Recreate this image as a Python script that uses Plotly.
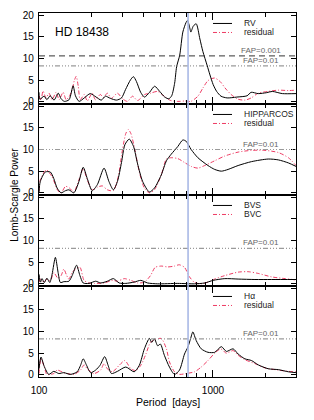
import math
import plotly.graph_objects as go
from plotly.subplots import make_subplots

# ---------------- data (period in days, Lomb-Scargle power) ----------------
rv_period = [100, 101, 107, 111, 116, 122, 129, 134, 140, 149, 157, 162, 170, 182, 197, 213, 228,
             241, 257, 279, 298, 314, 336, 349, 363, 384, 404, 432, 462, 494, 528, 557, 579, 602,
             618, 644, 671, 700, 714, 736, 746, 771, 801, 841, 875, 924, 961, 1002, 1050, 1112,
             1206, 1370, 1571, 1656, 1820, 2025, 2193, 2505, 3000]
rv_power = [2.2, 0.6, 1.3, 0.5, 1.4, 0.4, 2.0, 0.7, 0.1, 0.5, 3.7, 1.4, 0.1, 0.9, 1.9, 1.1, 0.4,
            1.3, 0.8, 0.4, 0.9, 2.8, 5.1, 5.8, 4.7, 2.2, 1.1, 2.2, 3.6, 2.4, 1.1, 0.7, 1.4, 4.3,
            8.1, 10.8, 16.1, 18.3, 18.8, 17.0, 16.1, 17.5, 18.0, 14.5, 11.6, 8.5, 6.2, 4.0, 2.4,
            1.3, 0.9, 1.1, 1.4, 2.2, 1.9, 2.1, 2.4, 1.9, 1.9]

rvres_period = [100, 102.7, 105.5, 109.8, 114.2, 118.9, 125.4, 130.5, 137.6, 143.2, 149.1, 155.1,
                159.3, 163.6, 168.1, 172.6, 182, 189.4, 202.2, 210.8, 225.2, 234.4, 247, 260.7,
                282.3, 302.1, 322.6, 344.7, 368.6, 404.9, 437.5, 481, 528.1, 571.8, 627.7, 689.8,
                745.9, 819, 875.5, 936, 1020, 1098, 1173, 1270, 1395, 1531, 1658, 1820, 2079,
                2375, 2714, 3000]
rvres_power = [1.4, 0.4, 2.5, 0.9, 2.0, 0.5, 2.2, 0.5, 2.2, 0.5, 1.2, 2.8,
               4.8, 5.9, 3.6, 0.5, 1.7, 0.2, 2.0, 0.5, 1.7, 1.0, 2.0, 0.8,
               2.0, 0.7, 0.1, 1.3, 0.3, 1.7, 2.0, 2.4, 1.2, 0.3, 0.1, 0.2,
               0.1, 1.3, 3.2, 4.9, 5.5, 4.7, 3.2, 1.7, 0.6, 0.4, 0.9, 2.0, 2.4,
               2.7, 2.6, 2.7]

hip_period = [100, 101.7, 108.7, 116.2, 121.6, 127.1, 134, 142, 148.5, 158.6, 169.6, 179.5, 189.4,
              202.2, 216.5, 236.5, 252.4, 267.6, 282.3, 298, 311.6, 330.2, 349.4, 368.6, 394.4,
              431.1, 460.8, 504, 540, 575, 628, 671, 701, 749, 819, 936, 1023, 1117, 1221, 1395,
              1665, 2079, 2375, 2714, 3000]
hip_power = [0, 2.6, 4.8, 4.8, 3.3, 1.1, 0, 0.5, 0.7, 0, 2.6, 5.9, 3.3,
             0.5, 1.9, 5.7, 2.6, 0.7, 2.6, 7.0, 11.1, 12.4, 10.7, 6.7, 2.6,
             0.2, 1.1, 4.1, 7.4, 8.9, 10.7, 12.2, 11.9, 10.0, 8.1, 6.3, 5.4, 5.0, 5.4, 6.3,
             7.2, 7.8, 7.6, 6.9, 6.1]

hipres_period = [100, 101.7, 110.2, 118.9, 128.4, 134, 142, 149.7, 158.6, 169.6, 179.5, 189.4,
                 202.2, 216.5, 231.3, 247, 267.6, 285.2, 302, 315.5, 325.9, 337.3, 355.5, 377.2,
                 403.4, 431.1, 460.8, 504, 540, 575, 628, 686, 749, 819, 896, 1023, 1169, 1395,
                 1665, 1990, 2375, 2714, 3000]
hipres_power = [0.4, 3.0, 5.3, 3.7, 0.5, 0, 1.5, 1.1, 0.2, 3.0, 5.6, 3.0,
                0.7, 1.3, 1.6, 0.7, 0.5, 3.7, 10.0, 13.7, 14.6, 13.7, 10.0, 4.8,
                1.1, 0, 0.7, 4.1, 7.8, 8.1, 7.9, 7.0, 6.1, 5.7, 6.3, 7.4, 8.5, 9.4,
                9.8, 9.8, 9.3, 8.1, 6.3]

bvs_period = [100, 102, 104.1, 107.3, 111, 115.3, 118.9, 124.2, 128.8, 132.7, 138.9, 148.5, 155.1,
              164.3, 171.9, 179.5, 193.7, 211.6, 226.1, 247, 267.6, 289, 315.5, 352.2, 384.8,
              420.9, 481, 628, 784, 896, 1002, 1169, 1395, 1742, 2172, 3000]
bvs_power = [2.2, 0.4, 1.2, 0.3, 1.3, 0.3, 2.2, 6.1, 2.6, 0.3, 0.5, 0.6, 1.9,
             4.3, 1.9, 0.2, 0.1, 0.6, 0.2, 0.6, 1.2, 0.2, 0.1, 0.4, 0.8,
             0.2, 0.0, 0.1, 0.0, 0.2, 0.8, 1.2, 1.1, 1.0, 1.0, 1.0]

bvc_period = [100, 101.7, 106.5, 111, 116.2, 121.6, 128.4, 134, 138.9, 144, 148.5, 155.1, 162,
              172, 181.5, 193.7, 208, 236.5, 265, 282.3, 309, 337.3, 368.6, 403.4, 437.3, 465,
              504, 549, 601, 640, 686, 733, 784, 856, 936, 1023, 1169, 1395, 1593, 1820, 2172,
              2597, 3000]
bvc_power = [0.4, 1.1, 0.4, 1.1, 0.7, 2.6, 1.3, 1.9, 3.4, 2.0, 1.1, 2.6, 3.4,
             3.8, 0.8, 0.2, 0.1, 0.2, 0.8, 0.6, 1.2, 0.8, 0.2, 0.4, 1.9, 3.8,
             4.1, 3.9, 4.1, 4.4, 3.8, 1.6, 0.3, 0.0, 0.4, 1.1, 1.9, 2.7, 2.8, 2.4, 1.6,
             1.2, 0.9]

ha_period = [100, 102.7, 107.3, 113.8, 121.6, 130, 138.9, 151.7, 165.8, 173.3, 179.5, 187.7, 198,
             211.6, 224.3, 238.5, 249.5, 260.7, 282.3, 315.5, 352.2, 377.2, 403.4, 431.1, 444,
             460.8, 481, 498.5, 525.6, 562, 601, 642, 686, 717, 743, 766, 801, 856, 936, 1023,
             1117, 1194, 1305, 1395, 1525, 1665, 1820, 2079, 2375, 2714, 3000]
ha_power = [1.4, 4.1, 1.9, 0.1, 0.8, 0.3, 0.5, 0.1, 0.7, 2.2, 3.7, 2.2, 0.5,
            1.1, 2.2, 4.2, 2.2, 0.3, 0.8, 1.8, 0.7, 2.2, 6.0, 8.4, 7.5,
            8.3, 6.7, 7.1, 4.5, 1.8, 0.1, 1.1, 4.8, 6.4, 8.3, 9.9, 7.9, 6.0, 5.2, 5.2,
            6.5, 5.4, 6.0, 4.8, 3.7, 3.3, 2.3, 1.4, 1.2, 0.7, 0.5]

hares_period = [100, 102.7, 107.3, 111, 121.6, 127.1, 138.9, 158.6, 173.3, 181.5, 189.4, 207,
                226.1, 236.5, 247, 264.2, 289, 311.6, 337.3, 360.3, 384.8, 411.6, 437.3, 465,
                504, 540, 562, 601, 642, 701, 784, 856, 936, 1023, 1108, 1194, 1305, 1395, 1525,
                1742, 1990, 2375, 2714, 3000]
hares_power = [0.3, 3.7, 1.8, 0.1, 0.3, 1.1, 0.5, 0.1, 1.1, 2.3, 1.4, 0.3,
               1.1, 2.6, 1.4, 0.7, 2.2, 3.3, 1.4, 1.0, 2.2, 4.8, 7.5, 8.1,
               8.4, 6.0, 3.0, 0.7, 0.1, 0.3, 0.7, 1.8, 3.3, 5.0, 6.0, 5.0, 5.6, 4.5, 3.5,
               2.6, 1.6, 1.1, 0.8, 0.7]

series_labels = [("RV", "residual"), ("HIPPARCOS", "residual"), ("BVS", "BVC"), ("H\u03b1", "residual")]
fap_01_levels = [8.3, 10.0, 8.2, 8.3]     # FAP = 0.01
fap_001_level = 10.6                      # FAP = 0.001 (RV panel only)
orbital_period = 719
star_name = "HD 18438"

x_major = [100, 1000]
x_major_text = ["100", "1000"]
x_minor = [200, 300, 400, 500, 600, 700, 800, 900, 2000, 3000]
y_ticks = [0, 5, 10, 15, 20]

# ---------------- figure ----------------
FONT = "Liberation Sans, Arial, Helvetica, sans-serif"
RED = "#ee3b63"
GRAY = "#9a9a9a"

fig = make_subplots(rows=4, cols=1, shared_xaxes=True, vertical_spacing=0)

panels = [
    (rv_period, rv_power, rvres_period, rvres_power),
    (hip_period, hip_power, hipres_period, hipres_power),
    (bvs_period, bvs_power, bvc_period, bvc_power),
    (ha_period, ha_power, hares_period, hares_power),
]

for i, (pa, va, pb, vb) in enumerate(panels, start=1):
    sfx = "" if i == 1 else str(i)
    # FAP=0.01 level
    fig.add_shape(type="line", xref=f"x{sfx} domain", x0=0, x1=1, yref=f"y{sfx}",
                  y0=fap_01_levels[i - 1], y1=fap_01_levels[i - 1],
                  line=dict(color=GRAY, width=1.2, dash="5px,2px,1px,2px,1px,2px,1px,2px"))
    fig.add_annotation(xref=f"x{sfx} domain", yref=f"y{sfx}", x=0.865, y=fap_01_levels[i - 1],
                       text="FAP=0.01", showarrow=False, xanchor="center", yanchor="bottom",
                       yshift=-1, font=dict(family=FONT, size=8, color="#666666"))
    fig.add_trace(go.Scatter(x=pb, y=vb, mode="lines", showlegend=False,
                             line=dict(color=RED, width=1, dash="4px,2px,1px,2px",
                                       shape="spline", smoothing=0.7)), row=i, col=1)
    fig.add_trace(go.Scatter(x=pa, y=va, mode="lines", showlegend=False,
                             line=dict(color="black", width=1, shape="spline", smoothing=0.7)),
                  row=i, col=1)
    # legend samples
    la, lb = series_labels[i - 1]
    for yy, lab, col, dash in [(0.885, la, "black", "solid"), (0.786, lb, RED, "4px,2px,1px,2px")]:
        fig.add_shape(type="line", xref=f"x{sfx} domain", yref=f"y{sfx} domain",
                      x0=0.677, x1=0.751, y0=yy, y1=yy, line=dict(color=col, width=1, dash=dash))
        fig.add_annotation(xref=f"x{sfx} domain", yref=f"y{sfx} domain", x=0.79, y=yy,
                           text=lab, showarrow=False, xanchor="left", yanchor="middle",
                           font=dict(family=FONT, size=8.5, color="#222222"))

# FAP=0.001 level in the RV panel
fig.add_shape(type="line", xref="x domain", x0=0, x1=1, yref="y",
              y0=fap_001_level, y1=fap_001_level,
              line=dict(color="#333333", width=1, dash="6px,4px"))
fig.add_annotation(xref="x domain", yref="y", x=0.865, y=fap_001_level, text="FAP=0.001",
                   showarrow=False, xanchor="center", yanchor="bottom", yshift=-1,
                   font=dict(family=FONT, size=8, color="#666666"))

# orbital period marker across all panels
fig.add_shape(type="line", xref="x", yref="paper", x0=orbital_period, x1=orbital_period,
              y0=0, y1=1, line=dict(color="#a9b9e6", width=1.6))

fig.add_annotation(xref="x domain", yref="y domain", x=0.055, y=0.79, text=star_name,
                   showarrow=False, xanchor="left", yanchor="middle",
                   font=dict(family=FONT, size=12, color="black"))

fig.add_annotation(xref="paper", yref="paper", x=-0.098, y=0.5, text="Lomb-Scargle Power",
                   textangle=-90, showarrow=False, xanchor="center", yanchor="middle",
                   font=dict(family=FONT, size=10, color="black"))
fig.add_annotation(xref="paper", yref="paper", x=0.5, y=-0.068, text="Period  [days]",
                   showarrow=False, xanchor="center", yanchor="middle",
                   font=dict(family=FONT, size=10.5, color="black"))

for i in range(1, 5):
    fig.update_xaxes(type="log", range=[2, math.log10(3000)], showgrid=False, zeroline=False,
                     showline=True, linecolor="black", linewidth=1.3, mirror="ticks",
                     ticks="inside", ticklen=7, tickwidth=1, tickcolor="black",
                     tickmode="array", tickvals=x_major, ticktext=x_major_text,
                     minor=dict(tickmode="array", tickvals=x_minor, ticks="inside", ticklen=4,
                                tickwidth=1, tickcolor="black", showgrid=False),
                     tickfont=dict(family=FONT, size=10, color="black"), automargin=False,
                     showticklabels=(i == 4), ticklabelstandoff=4, row=i, col=1)
    fig.update_yaxes(range=[-0.5, 20.5], showgrid=False, zeroline=False,
                     showline=True, linecolor="black", linewidth=1.3, mirror="ticks",
                     ticks="inside", ticklen=5, tickwidth=1, tickcolor="black",
                     tickmode="array", tickvals=y_ticks, automargin=False,
                     tickfont=dict(family=FONT, size=10, color="black"),
                     ticklabelstandoff=2, row=i, col=1)

# the page body adds an 8px offset, so the figure is sized to end at the window edge
fig.update_layout(width=298, height=404, margin=dict(l=31, r=10, t=5, b=35),
                  plot_bgcolor="white", paper_bgcolor="white", showlegend=False,
                  font=dict(family=FONT, size=10, color="black"))

fig.write_html("out.html")
